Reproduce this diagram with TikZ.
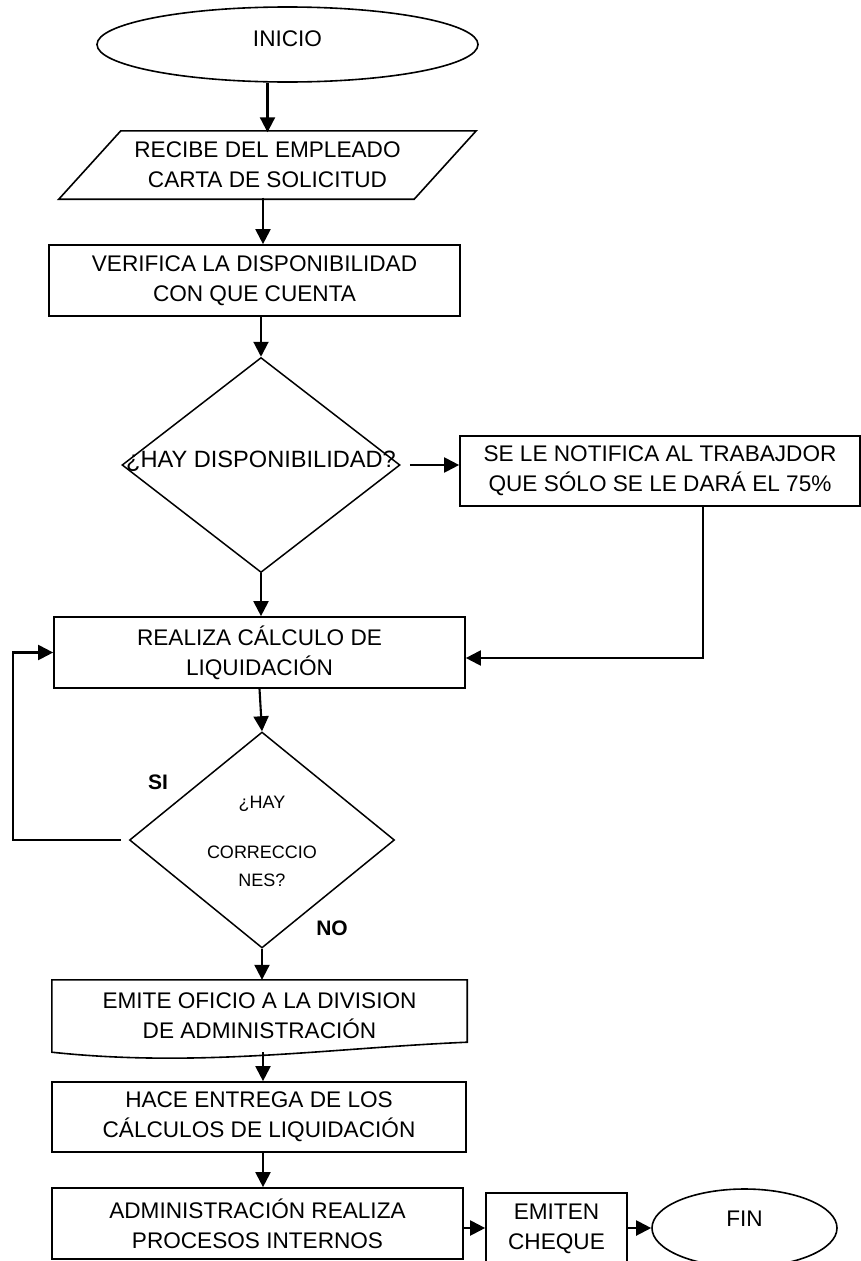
\documentclass[tikz,border=0pt]{standalone}
\usepackage{fontspec}
\setmainfont{Liberation Sans}
\usetikzlibrary{arrows.meta,shapes.geometric}

\begin{document}
\begin{tikzpicture}[x=1pt,y=-1pt,
  box/.style={draw,line width=1.7pt,rectangle,inner sep=0pt,align=center,font=\fontsize{22.6}{30}\selectfont},
  plain/.style={inner sep=0pt,align=center,font=\fontsize{22.6}{30}\selectfont},
  oval/.style={draw,line width=1.6pt,ellipse,inner sep=0pt},
  dia/.style={draw,line width=1.5pt,diamond,inner sep=0pt},
  arr/.style={line width=2.1pt,-{Triangle[length=15pt,width=15pt]}},
  tag/.style={inner sep=0pt,font=\fontsize{21}{24}\selectfont\bfseries}
]
\useasboundingbox (0,0) rectangle (861,1261);

% start
\node[oval, minimum width=381pt, minimum height=75pt] (inicio) at (287.5,44.5) {};
\node[plain] (iniciotxt) at (287.5,39) {INICIO};

% input parallelogram
\node[plain, minimum width=355pt, minimum height=65pt] (recibe) at (267.5,165) {RECIBE DEL EMPLEADO\\CARTA DE SOLICITUD};
\draw[line width=1.6pt] ([xshift=31pt,yshift=1.5pt]recibe.north west) -- ([xshift=31pt,yshift=1.5pt]recibe.north east)
  -- ([xshift=-31pt,yshift=-1.5pt]recibe.south east) -- ([xshift=-31pt,yshift=-1.5pt]recibe.south west) -- cycle;

\node[box, minimum width=411pt, minimum height=71pt] (verifica) at (254.5,280.5) {VERIFICA LA DISPONIBILIDAD\\CON QUE CUENTA};

% first decision
\node[dia, minimum width=278pt, minimum height=215pt] (d1) at (261,465) {};
\node[inner sep=0pt, font=\fontsize{23.6}{30}\selectfont] (d1txt) at (261,461) {¿HAY DISPONIBILIDAD?};

\node[box, minimum width=400pt, minimum height=70pt] (notif) at (660,471) {SE LE NOTIFICA AL TRABAJDOR\\QUE SÓLO SE LE DARÁ EL 75\%};

\node[box, minimum width=411pt, minimum height=71pt] (realiza) at (259.5,652.5) {REALIZA CÁLCULO DE\\LIQUIDACIÓN};

% second decision
\node[dia, minimum width=265pt, minimum height=216pt] (d2) at (262,840) {};
\node[inner sep=0pt, align=center, font=\fontsize{18}{28}\selectfont] (d2txt) at (262,841) {¿HAY\\[22pt]CORRECCIO\\NES?};
\node[tag] (si) at (158,782) {SI};
\node[tag] (no) at (332,928) {NO};

% document shape
\node[plain, minimum width=415pt, minimum height=72pt] (emite) at (259.5,1016) {EMITE OFICIO A LA DIVISION\\DE ADMINISTRACIÓN};
\draw[line width=1.6pt] (emite.south west) -- (emite.north west) -- (emite.north east) -- ([yshift=10pt]emite.south east)
  .. controls (330,1048) and (200,1068) .. (emite.south west) -- cycle;

\node[box, minimum width=414pt, minimum height=70pt] (hace) at (259,1117) {HACE ENTREGA DE LOS\\CÁLCULOS DE LIQUIDACIÓN};
\node[box, minimum width=411pt, minimum height=71pt] (admin) at (257.5,1223.5) {ADMINISTRACIÓN REALIZA\\PROCESOS INTERNOS};
\node[box, minimum width=141pt, minimum height=72pt] (emiten) at (556.5,1229) {EMITEN\\CHEQUE};
\node[oval, minimum width=185pt, minimum height=78pt] (fin) at (744.5,1228) {};
\node[plain] (fintxt) at (744.5,1219) {FIN};

% helper points for connector routing
\coordinate (col) at (263,0);
\coordinate (row) at (0,1228);
\coordinate (nret) at (703,658);
\coordinate (sicorner) at (13,840);

% connectors
\draw[arr] (inicio.south -| recibe.north) -- (recibe.north);
\draw[arr] (recibe.south -| col) -- (verifica.north -| col);
\draw[arr] (verifica.south -| d1.north) -- (d1.north);
\draw[arr, shorten <=9pt] (d1.east) -- (d1.east -| notif.west);
\draw[arr] (d1.south) -- (d1.south |- realiza.north);
\draw[arr] (nret |- notif.south) -- (nret) -- (nret -| realiza.east);
\draw[arr] (realiza.south) -- (d2.north);
\draw[arr, shorten <=8pt] (d2.west) -- (sicorner) |- (realiza.west);
\draw[arr] (d2.south) -- (d2.south |- emite.north);
\draw[arr] (emite.south -| col) -- (hace.north -| col);
\draw[arr] (hace.south -| col) -- (admin.north -| col);
\draw[arr] (admin.east |- row) -- (emiten.west |- row);
\draw[arr] (emiten.east |- row) -- (fin.west);
\end{tikzpicture}
\end{document}
